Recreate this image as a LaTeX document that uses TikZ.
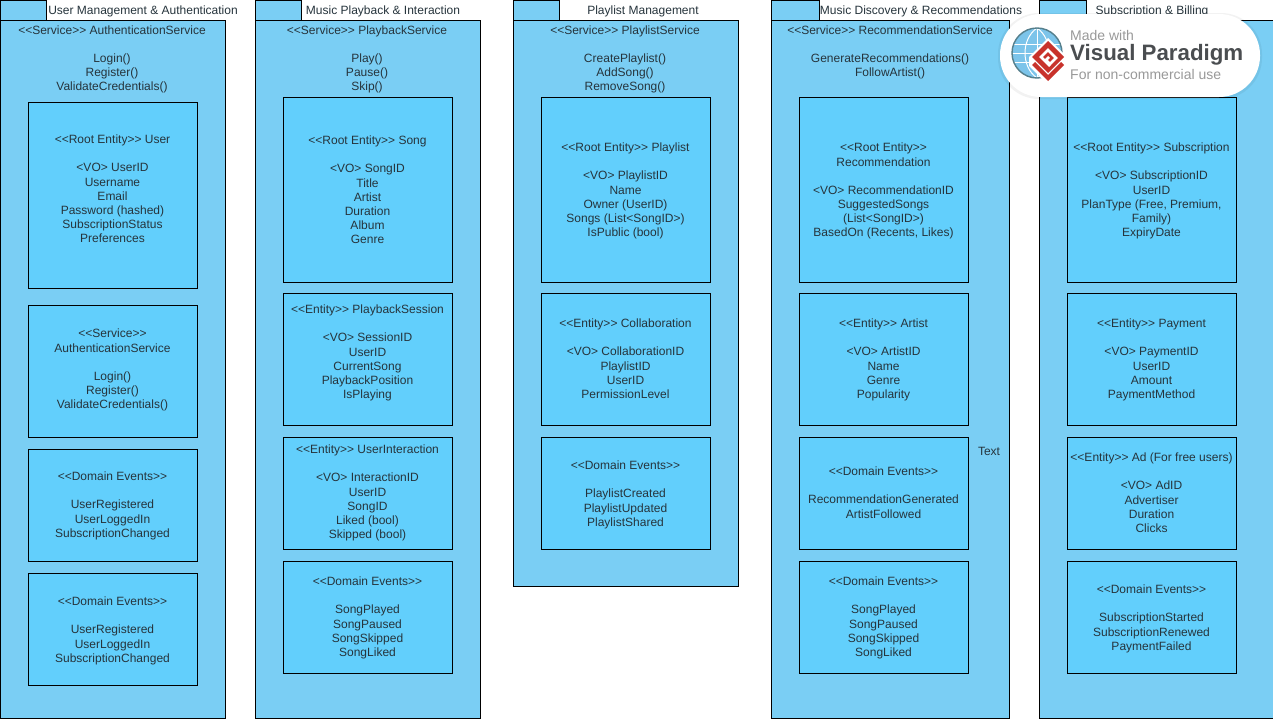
\documentclass[tikz,border=0pt]{standalone}
\usepackage{fontspec}
\newfontfamily\lib{Liberation Sans}
\definecolor{pkgfill}{HTML}{7ACEF4}
\definecolor{boxfill}{HTML}{62CFFC}
\definecolor{txt}{HTML}{26343C}
\definecolor{vpred}{HTML}{C8322B}
\definecolor{vpgray}{HTML}{4A4D50}
\definecolor{vpblue}{HTML}{7CC4EA}
\definecolor{vpring}{HTML}{557F8C}
\tikzset{
  x=1pt,y=-1pt,
  pkg/.style={draw=black,fill=pkgfill,line width=0.9pt,inner sep=0,anchor=north west},
  entitybox/.style={draw=black,fill=boxfill,line width=0.9pt,inner sep=0,anchor=north west,minimum width=169pt},
  lbl/.style={text=txt,font=\lib\fontsize{12}{14.2}\selectfont,align=center,anchor=north,inner sep=0,execute at begin node=\strut},
  pkgtitle/.style={text=txt,font=\lib\fontsize{12}{14}\selectfont,anchor=center,inner sep=0},
}
% name, x, y, h, text y, text
\newcommand{\ebox}[6]{%
  \node[entitybox,minimum height=#4 pt] (#1) at (#2,#3) {};
  \node[lbl] (#1t) at (#2+84.5,#5-4) {#6};
}
% name, x, w, bottom, tab width
\newcommand{\pkgbox}[5]{%
  \node[pkg,minimum width=#5 pt,minimum height=20pt] (#1tab) at (#2,0) {};
  \node[pkg,minimum width=#3 pt,minimum height={(#4-20)*1pt}] (#1) at (#2,20) {};
}
\begin{document}
\begin{tikzpicture}
\useasboundingbox (0,0) rectangle (1273,720);
\fill[white] (0,0) rectangle (1273,720);

\pkgbox{pa}{0}{225}{718}{46}
\node[pkgtitle] (pat) at (143,11) {User Management \& Authentication};
\node[lbl] (pas) at (112,25.4) {<<Service>> AuthenticationService\\[13.8pt]Login()\\Register()\\ValidateCredentials()};
\ebox{a1}{28}{102}{186}{139}{<<Root Entity>> User\\[13.8pt]<VO> UserID\\Username\\Email\\Password (hashed)\\SubscriptionStatus\\Preferences}
\ebox{a2}{28}{305}{132}{333}{<<Service>>\\AuthenticationService\\[13.8pt]Login()\\Register()\\ValidateCredentials()}
\ebox{a3}{28}{449}{112}{476}{<<Domain Events>>\\[13.8pt]UserRegistered\\UserLoggedIn\\SubscriptionChanged}
\ebox{a4}{28}{573}{112}{601}{<<Domain Events>>\\[13.8pt]UserRegistered\\UserLoggedIn\\SubscriptionChanged}

\pkgbox{pb}{255}{225}{718}{46}
\node[pkgtitle] (pbt) at (383,11) {Music Playback \& Interaction};
\node[lbl] (pbs) at (367,25.4) {<<Service>> PlaybackService\\[13.8pt]Play()\\Pause()\\Skip()};
\ebox{b1}{283}{97}{185}{140}{<<Root Entity>> Song\\[13.8pt]<VO> SongID\\Title\\Artist\\Duration\\Album\\Genre}
\ebox{b2}{283}{293}{132}{309}{<<Entity>> PlaybackSession\\[13.8pt]<VO> SessionID\\UserID\\CurrentSong\\PlaybackPosition\\IsPlaying}
\ebox{b3}{283}{437}{112}{449}{<<Entity>> UserInteraction\\[13.8pt]<VO> InteractionID\\UserID\\SongID\\Liked (bool)\\Skipped (bool)}
\ebox{b4}{283}{561}{112}{581}{<<Domain Events>>\\[13.8pt]SongPlayed\\SongPaused\\SongSkipped\\SongLiked}

\pkgbox{pc}{513}{225}{586}{46}
\node[pkgtitle] (pct) at (643,11) {Playlist Management};
\node[lbl] (pcs) at (625,25.4) {<<Service>> PlaylistService\\[13.8pt]CreatePlaylist()\\AddSong()\\RemoveSong()};
\ebox{c1}{541}{97}{185}{147}{<<Root Entity>> Playlist\\[13.8pt]<VO> PlaylistID\\Name\\Owner (UserID)\\Songs (List<SongID>)\\IsPublic (bool)}
\ebox{c2}{541}{293}{132}{323}{<<Entity>> Collaboration\\[13.8pt]<VO> CollaborationID\\PlaylistID\\UserID\\PermissionLevel}
\ebox{c3}{541}{437}{112}{465}{<<Domain Events>>\\[13.8pt]PlaylistCreated\\PlaylistUpdated\\PlaylistShared}

\pkgbox{pd}{771}{238}{718}{48}
\node[pkgtitle] (pdt) at (921,11) {Music Discovery \& Recommendations};
\node[lbl] (pds) at (890,25.4) {<<Service>> RecommendationService\\[13.8pt]GenerateRecommendations()\\FollowArtist()};
\ebox{d1}{799}{97}{185}{147}{<<Root Entity>>\\Recommendation\\[13.8pt]<VO> RecommendationID\\SuggestedSongs\\(List<SongID>)\\BasedOn (Recents, Likes)}
\ebox{d2}{799}{293}{132}{323}{<<Entity>> Artist\\[13.8pt]<VO> ArtistID\\Name\\Genre\\Popularity}
\ebox{d3}{799}{437}{112}{471}{<<Domain Events>>\\[13.8pt]RecommendationGenerated\\ArtistFollowed}
\ebox{d4}{799}{561}{112}{581}{<<Domain Events>>\\[13.8pt]SongPlayed\\SongPaused\\SongSkipped\\SongLiked}
\node[pkgtitle] (dtext) at (989,451) {Text};

\pkgbox{pe}{1039}{234}{718}{47}
\node[pkgtitle] (pet) at (1152,11) {Subscription \& Billing};
\ebox{e1}{1067}{97}{185}{147}{<<Root Entity>> Subscription\\[13.8pt]<VO> SubscriptionID\\UserID\\PlanType (Free, Premium,\\Family)\\ExpiryDate}
\ebox{e2}{1067}{293}{132}{323}{<<Entity>> Payment\\[13.8pt]<VO> PaymentID\\UserID\\Amount\\PaymentMethod}
\ebox{e3}{1067}{437}{112}{457}{<<Entity>> Ad (For free users)\\[13.8pt]<VO> AdID\\Advertiser\\Duration\\Clicks}
\ebox{e4}{1067}{561}{112}{589}{<<Domain Events>>\\[13.8pt]SubscriptionStarted\\SubscriptionRenewed\\PaymentFailed}

% watermark
\fill[black,opacity=0.05,rounded corners=41pt] (998,13) rectangle (1262,99);
\fill[white,rounded corners=41pt] (1000,14) rectangle (1260,97);
\fill[vpblue] (1037,53) circle (25);
\begin{scope}
\clip (1037,53) circle (25);
\draw[white,line width=1pt] (1012,44) -- (1062,44) (1012,62) -- (1062,62) (1012,53) -- (1062,53) (1037,28) -- (1037,78);
\draw[white,line width=1pt] (1037,28) .. controls (1021,39) and (1021,67) .. (1037,78);
\draw[white,line width=1pt] (1037,28) .. controls (1053,39) and (1053,67) .. (1037,78);
\end{scope}
\draw[vpring,line width=1.4pt] (1037,53) circle (25);
\fill[white] (1029,57) -- (1048,38) -- (1067,57) -- (1067,66) -- (1048,85) -- (1029,66) -- cycle;
\fill[vpred] (1032,65) -- (1048,81) -- (1064,65) -- (1061,62) -- (1048,75) -- (1035,62) -- cycle;
\fill[vpred] (1032,57) -- (1048,41) -- (1064,57) -- (1048,73) -- cycle;
\draw[white,line width=2.6pt,line join=miter] (1050,66) -- (1041,57) -- (1048,50) -- (1056,58) -- (1050,64) -- (1046,60) -- (1049,57);
\node[text=gray!80,font=\lib\fontsize{14}{15}\selectfont,anchor=west,inner sep=0] (vp1) at (1070,35) {Made with};
\node[text=vpgray,font=\lib\fontsize{22.3}{26}\selectfont\bfseries,anchor=west,inner sep=0] (vp2) at (1070,55) {Visual Paradigm};
\node[text=gray!80,font=\lib\fontsize{14}{15}\selectfont,anchor=west,inner sep=0] (vp3) at (1070,74) {For non-commercial use};
\end{tikzpicture}
\end{document}
